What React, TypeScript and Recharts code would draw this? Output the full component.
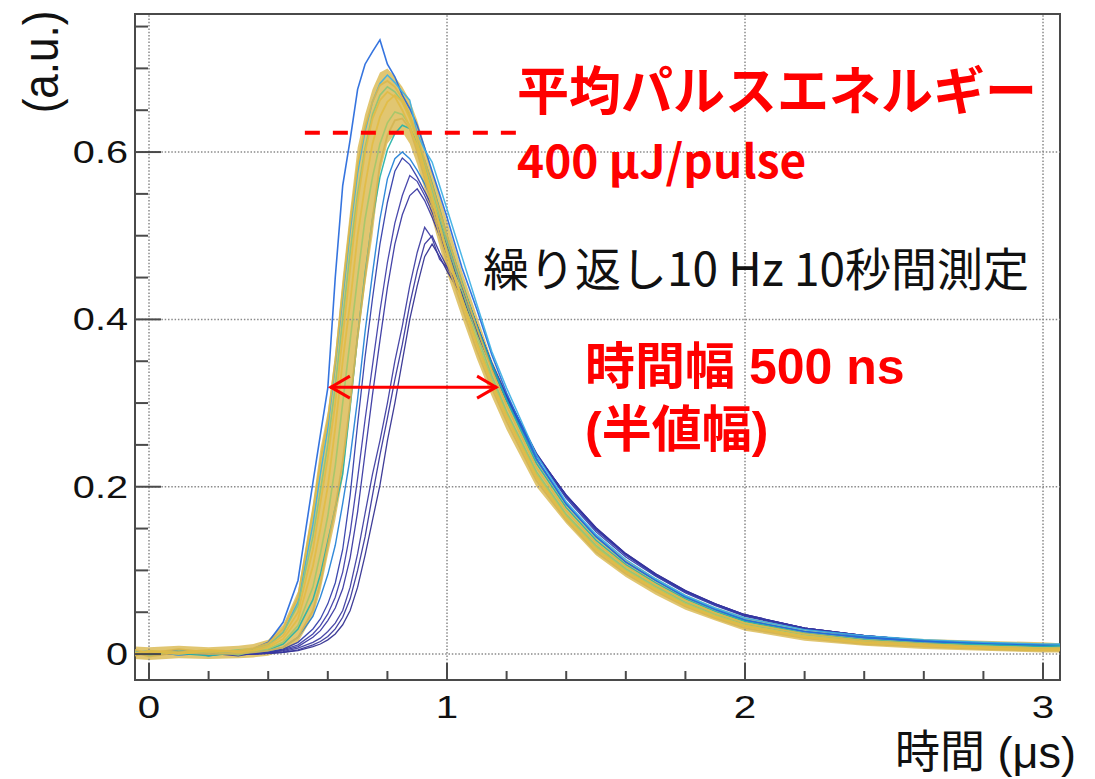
import React from 'react';
import { ComposedChart, Line, Area, XAxis, YAxis, ReferenceLine, ReferenceArea } from 'recharts';

// time axis (µs)
const T = [-0.047, 0, 0.1, 0.2, 0.3, 0.35, 0.4,
  0.45, 0.5, 0.55, 0.575, 0.6, 0.625, 0.65, 0.675, 0.7, 0.725, 0.75, 0.775,
  0.8, 0.825, 0.85, 0.875, 0.9, 0.925, 0.95, 0.975, 1.0, 1.05, 1.1, 1.15,
  1.2, 1.3, 1.4, 1.5, 1.6, 1.7, 1.8, 1.9, 2.0, 2.2, 2.4, 2.6, 2.8, 3.0, 3.057];

// envelope of the dense (ochre) bundle of pulses
const bandLow = [-0.006, -0.007, -0.005, -0.006, -0.005, -0.004, -0.002,
  0.004, 0.014, 0.045, 0.075, 0.118, 0.16, 0.21, 0.29, 0.37, 0.44, 0.5, 0.575,
  0.61, 0.622, 0.624, 0.61, 0.585, 0.555, 0.52, 0.487, 0.455, 0.403, 0.353, 0.308,
  0.268, 0.2, 0.156, 0.118, 0.092, 0.071, 0.053, 0.04, 0.028, 0.016, 0.01, 0.006, 0.004, 0.002, 0.002];
const bandHigh = [0.009, 0.008, 0.01, 0.008, 0.01, 0.012, 0.017,
  0.035, 0.075, 0.18, 0.245, 0.29, 0.36, 0.45, 0.53, 0.605, 0.645, 0.675, 0.695,
  0.7, 0.69, 0.678, 0.662, 0.638, 0.608, 0.578, 0.548, 0.518, 0.458, 0.405, 0.352,
  0.312, 0.234, 0.18, 0.142, 0.113, 0.091, 0.071, 0.056, 0.044, 0.03, 0.022, 0.018, 0.016, 0.014, 0.013];

// individual pulses
const blue1 = [0.004, 0.0, 0.005, -0.002, 0.003, 0.006, 0.014,
  0.038, 0.088, 0.205, 0.262, 0.318, 0.45, 0.56, 0.615, 0.675, 0.705, 0.72, 0.734,
  0.705, 0.69, 0.668, 0.652, 0.632, 0.605, 0.577, 0.55, 0.522, 0.462, 0.412, 0.358,
  0.312, 0.234, 0.18, 0.141, 0.11, 0.088, 0.068, 0.053, 0.04, 0.027, 0.02, 0.015, 0.013, 0.01, 0.011];
const cyan1 = [0.002, 0.004, -0.001, 0.003, 0.001, 0.004, 0.01,
  0.026, 0.062, 0.155, 0.215, 0.27, 0.345, 0.425, 0.505, 0.575, 0.625, 0.66, 0.682,
  0.692, 0.683, 0.672, 0.662, 0.622, 0.603, 0.588, 0.56, 0.532, 0.475, 0.418, 0.362,
  0.318, 0.238, 0.182, 0.143, 0.113, 0.09, 0.07, 0.055, 0.043, 0.029, 0.022, 0.017, 0.014, 0.012, 0.012];
const teal1 = [0.0, 0.003, 0.001, -0.002, 0.002, 0.003, 0.005,
  0.012, 0.03, 0.065, 0.095, 0.135, 0.175, 0.215, 0.295, 0.38, 0.455, 0.52, 0.57,
  0.603, 0.622, 0.632, 0.628, 0.612, 0.59, 0.562, 0.532, 0.5, 0.445, 0.392, 0.345,
  0.303, 0.228, 0.175, 0.136, 0.107, 0.085, 0.066, 0.051, 0.039, 0.025, 0.017, 0.013, 0.011, 0.009, 0.01];
const blue2 = [0.003, -0.001, 0.002, 0.004, 0.0, 0.002, 0.004,
  0.008, 0.02, 0.045, 0.068, 0.095, 0.13, 0.18, 0.235, 0.305, 0.385, 0.455, 0.52,
  0.568, 0.592, 0.6, 0.592, 0.578, 0.562, 0.542, 0.518, 0.493, 0.442, 0.393, 0.348,
  0.305, 0.232, 0.179, 0.14, 0.11, 0.088, 0.069, 0.054, 0.041, 0.027, 0.019, 0.015, 0.012, 0.01, 0.009];
const navy1 = [0.002, 0.0, 0.003, 0.001, -0.002, 0.001, 0.003,
  0.006, 0.014, 0.03, 0.042, 0.06, 0.085, 0.125, 0.19, 0.275, 0.355, 0.425, 0.49,
  0.54, 0.577, 0.593, 0.585, 0.57, 0.553, 0.535, 0.512, 0.488, 0.442, 0.394, 0.348,
  0.308, 0.238, 0.186, 0.146, 0.116, 0.093, 0.073, 0.058, 0.045, 0.03, 0.021, 0.016, 0.013, 0.01, 0.01];
const navy2 = [-0.001, 0.002, 0.0, 0.003, 0.001, 0.0, 0.002,
  0.005, 0.011, 0.024, 0.034, 0.048, 0.068, 0.098, 0.145, 0.21, 0.28, 0.345, 0.41,
  0.468, 0.515, 0.548, 0.572, 0.565, 0.548, 0.528, 0.505, 0.482, 0.44, 0.393, 0.348,
  0.309, 0.24, 0.188, 0.148, 0.118, 0.094, 0.074, 0.059, 0.046, 0.031, 0.022, 0.016, 0.013, 0.011, 0.01];
const navy3 = [0.001, 0.0, 0.002, -0.001, 0.002, 0.001, 0.002,
  0.004, 0.009, 0.02, 0.028, 0.04, 0.055, 0.078, 0.115, 0.17, 0.24, 0.31, 0.375,
  0.438, 0.49, 0.525, 0.548, 0.556, 0.542, 0.522, 0.5, 0.478, 0.438, 0.392, 0.347,
  0.308, 0.24, 0.189, 0.149, 0.119, 0.095, 0.075, 0.06, 0.047, 0.031, 0.022, 0.016, 0.013, 0.011, 0.01];
const navy4 = [0.0, 0.002, -0.001, 0.001, 0.0, 0.001, 0.001,
  0.003, 0.007, 0.014, 0.019, 0.027, 0.037, 0.052, 0.08, 0.12, 0.168, 0.215, 0.255,
  0.3, 0.35, 0.392, 0.44, 0.48, 0.51, 0.497, 0.472, 0.462, 0.43, 0.386, 0.343,
  0.303, 0.237, 0.19, 0.15, 0.119, 0.095, 0.075, 0.059, 0.046, 0.031, 0.022, 0.016, 0.013, 0.011, 0.01];
const navy5 = [0.001, 0.0, 0.001, 0.002, -0.001, 0.0, 0.001,
  0.002, 0.005, 0.011, 0.015, 0.021, 0.03, 0.044, 0.066, 0.1, 0.14, 0.19, 0.238,
  0.282, 0.328, 0.37, 0.418, 0.458, 0.49, 0.5, 0.48, 0.463, 0.432, 0.388, 0.345,
  0.305, 0.238, 0.19, 0.151, 0.12, 0.096, 0.076, 0.06, 0.047, 0.031, 0.022, 0.016, 0.013, 0.011, 0.01];
const navy6 = [0.0, 0.001, 0.0, 0.001, 0.0, 0.0, 0.001,
  0.002, 0.004, 0.009, 0.012, 0.017, 0.024, 0.035, 0.052, 0.08, 0.118, 0.16, 0.202,
  0.255, 0.3, 0.35, 0.4, 0.44, 0.475, 0.49, 0.475, 0.458, 0.428, 0.385, 0.343,
  0.304, 0.238, 0.19, 0.151, 0.12, 0.096, 0.076, 0.06, 0.047, 0.031, 0.022, 0.016, 0.013, 0.011, 0.01];
const green1 = [0.003, -0.002, 0.004, 0.001, 0.005, 0.006, 0.011,
  0.026, 0.058, 0.14, 0.195, 0.25, 0.32, 0.4, 0.48, 0.55, 0.605, 0.645, 0.668,
  0.678, 0.672, 0.66, 0.642, 0.615, 0.585, 0.555, 0.523, 0.492, 0.435, 0.382, 0.333,
  0.29, 0.218, 0.167, 0.13, 0.102, 0.081, 0.062, 0.048, 0.036, 0.023, 0.016, 0.012, 0.009, 0.007, 0.008];
const green2 = [0.0, 0.004, 0.001, 0.003, -0.001, 0.003, 0.006,
  0.014, 0.034, 0.08, 0.12, 0.165, 0.225, 0.3, 0.375, 0.45, 0.52, 0.57, 0.61,
  0.635, 0.648, 0.645, 0.632, 0.605, 0.578, 0.547, 0.515, 0.483, 0.426, 0.375, 0.328,
  0.287, 0.215, 0.165, 0.128, 0.1, 0.079, 0.06, 0.046, 0.034, 0.021, 0.014, 0.01, 0.007, 0.005, 0.006];
const ochre1 = [0.005, 0.001, 0.006, 0.002, 0.004, 0.007, 0.013,
  0.03, 0.068, 0.17, 0.23, 0.28, 0.35, 0.435, 0.515, 0.585, 0.63, 0.66, 0.68,
  0.685, 0.678, 0.664, 0.645, 0.62, 0.59, 0.56, 0.53, 0.5, 0.443, 0.39, 0.34,
  0.297, 0.223, 0.171, 0.133, 0.105, 0.083, 0.064, 0.049, 0.037, 0.024, 0.016, 0.012, 0.009, 0.007, 0.007];
const ochre2 = [-0.002, 0.003, 0.0, 0.004, 0.002, 0.004, 0.008,
  0.018, 0.042, 0.105, 0.15, 0.2, 0.27, 0.35, 0.42, 0.5, 0.56, 0.61, 0.642,
  0.66, 0.668, 0.66, 0.64, 0.612, 0.58, 0.545, 0.512, 0.48, 0.425, 0.372, 0.325,
  0.285, 0.213, 0.163, 0.126, 0.099, 0.078, 0.059, 0.045, 0.034, 0.021, 0.014, 0.01, 0.007, 0.005, 0.005];
const ochre3 = [0.002, -0.003, 0.002, 0.0, 0.001, 0.002, 0.004,
  0.008, 0.02, 0.052, 0.085, 0.13, 0.175, 0.23, 0.3, 0.38, 0.45, 0.52, 0.585,
  0.62, 0.638, 0.64, 0.628, 0.6, 0.568, 0.535, 0.5, 0.468, 0.415, 0.363, 0.318,
  0.278, 0.207, 0.16, 0.122, 0.096, 0.075, 0.057, 0.043, 0.031, 0.019, 0.012, 0.009, 0.006, 0.004, 0.004];
const ochre4 = [0.001, 0.004, 0.002, 0.005, 0.003, 0.005, 0.01,
  0.022, 0.05, 0.125, 0.18, 0.235, 0.3, 0.38, 0.46, 0.54, 0.6, 0.64, 0.662,
  0.672, 0.666, 0.65, 0.63, 0.605, 0.575, 0.542, 0.51, 0.478, 0.422, 0.37, 0.322,
  0.283, 0.211, 0.162, 0.125, 0.098, 0.077, 0.058, 0.044, 0.033, 0.02, 0.013, 0.01, 0.007, 0.005, 0.006];

// ticks
const xTicks = [0, 0.2, 0.4, 0.6, 0.8, 1, 1.2, 1.4, 1.6, 1.8, 2, 2.2, 2.4, 2.6, 2.8, 3];
const xMajor = [0, 1, 2, 3];
const yTicks = [0, 0.05, 0.1, 0.15, 0.2, 0.25, 0.3, 0.35, 0.4, 0.45, 0.5, 0.55, 0.6, 0.65, 0.7, 0.75];
const yMajor = [0, 0.2, 0.4, 0.6];
const yLabels = ['0', '0.2', '0.4', '0.6'];
const xLabels = ['0', '1', '2', '3'];

const X_DOMAIN: [number, number] = [-0.047, 3.057];
const Y_DOMAIN: [number, number] = [-0.031, 0.765];

// annotation values (data coordinates)
const energyLevel = 0.623;
const energySpan = [0.523, 1.235];
const halfMax = 0.319;
const fwhmSpan = [0.607, 1.168];

const series = [
  { key: 'navy6', values: navy6, color: '#2f2d8f', width: 1.3 },
  { key: 'navy5', values: navy5, color: '#35339a', width: 1.3 },
  { key: 'navy4', values: navy4, color: '#3a389f', width: 1.3 },
  { key: 'navy3', values: navy3, color: '#3433a0', width: 1.3 },
  { key: 'navy2', values: navy2, color: '#3b3aa6', width: 1.3 },
  { key: 'navy1', values: navy1, color: '#2e3aa8', width: 1.3 },
  { key: 'blue2', values: blue2, color: '#1f7fd6', width: 1.4 },
  { key: 'blue1', values: blue1, color: '#2468dc', width: 1.6 },
  { key: 'cyan1', values: cyan1, color: '#3cb0e4', width: 1.5 },
  { key: 'teal1', values: teal1, color: '#26b2a8', width: 1.5 },
  { key: 'green1', values: green1, color: '#8cc47a', width: 1.6 },
  { key: 'green2', values: green2, color: '#a3c76a', width: 1.6 },
  { key: 'ochre1', values: ochre1, color: '#dab74c', width: 1.8 },
  { key: 'ochre3', values: ochre3, color: '#d4b452', width: 1.8 },
  { key: 'ochre2', values: ochre2, color: '#e2bc44', width: 1.8 },
  { key: 'ochre4', values: ochre4, color: '#dfbb48', width: 1.8 },
];

const rows = T.map((t, i) => {
  const r: Record<string, any> = { t, band: [bandLow[i], bandHigh[i]] };
  series.forEach((s) => { r[s.key] = s.values[i]; });
  return r;
});

const LABEL_FONT = '"Liberation Sans", Arial, Helvetica, sans-serif';
const JP_FONT = '"Noto Sans CJK JP", "Noto Sans", sans-serif';
const MIX_FONT = '"Liberation Sans", "Noto Sans CJK JP", sans-serif';
const AXIS_COLOR = '#4a4a4a';

const isMajor = (v: number, list: number[]) => list.some((m) => Math.abs(m - v) < 1e-6);

const XTick = (props: any) => {
  const { x, y, payload } = props;
  const v = payload.value;
  const major = isMajor(v, xMajor);
  const axisY = y - 16;
  const idx = xMajor.findIndex((m) => Math.abs(m - v) < 1e-6);
  return (
    <g>
      <line x1={x} x2={x} y1={axisY} y2={axisY - (major ? 17 : 9)} stroke={AXIS_COLOR} strokeWidth={2} />
      {major && (
        <text transform={`translate(${x},${axisY + 38}) scale(1.3,1)`} textAnchor="middle"
          fontFamily={LABEL_FONT} fontSize={31} fill="#111">{xLabels[idx]}</text>
      )}
    </g>
  );
};

const YTick = (props: any) => {
  const { x, y, payload } = props;
  const v = payload.value;
  const major = isMajor(v, yMajor);
  const axisX = x + 8;
  const idx = yMajor.findIndex((m) => Math.abs(m - v) < 1e-6);
  return (
    <g>
      <line x1={axisX} x2={axisX + (major ? 26 : 13)} y1={y} y2={y} stroke={AXIS_COLOR} strokeWidth={2} />
      {major && (
        <text transform={`translate(${x + 1},${y + 11}) scale(1.28,1)`} textAnchor="end"
          fontFamily={LABEL_FONT} fontSize={31} fill="#111">{yLabels[idx]}</text>
      )}
    </g>
  );
};

const ArrowShape = (p: any) => {
  const { x1, y1, x2, y2 } = p;
  const c = '#ff0000';
  return (
    <g>
      <line x1={x1} y1={y1} x2={x2} y2={y2} stroke={c} strokeWidth={3} />
      <polyline points={`${x1 + 20},${y1 - 11} ${x1 + 1},${y1} ${x1 + 20},${y1 + 11}`} fill="none" stroke={c} strokeWidth={3} />
      <polyline points={`${x2 - 20},${y2 - 11} ${x2 - 1},${y2} ${x2 - 20},${y2 + 11}`} fill="none" stroke={c} strokeWidth={3} />
    </g>
  );
};

export default function App() {
  return (
    <div style={{ position: 'absolute', left: 0, top: 0, width: 1095, height: 779, background: '#fff' }}>
      <ComposedChart width={1095} height={779} data={rows} margin={{ top: 14, right: 35, bottom: 0, left: 0 }}>
        <XAxis type="number" dataKey="t" domain={X_DOMAIN} allowDataOverflow ticks={xTicks} interval={0}
          tick={(p: any) => <XTick {...p} />} tickLine={false} axisLine={false} height={99} tickSize={0} tickMargin={16} />
        <YAxis type="number" domain={Y_DOMAIN} allowDataOverflow ticks={yTicks} interval={0}
          tick={(p: any) => <YTick {...p} />} tickLine={false} axisLine={false} width={135} tickSize={0} tickMargin={8} />
        {xMajor.map((v) => (
          <ReferenceLine key={'gx' + v} x={v} stroke="#8a8a8a" strokeWidth={1.5} strokeDasharray="1.5 1.8" />
        ))}
        {yMajor.map((v) => (
          <ReferenceLine key={'gy' + v} y={v} stroke="#8a8a8a" strokeWidth={1.5} strokeDasharray="1.5 1.8" />
        ))}
        <Area type="linear" dataKey="band" stroke="none" fill="#d9b84e" fillOpacity={0.8} isAnimationActive={false} activeDot={false} />
        {series.map((s) => (
          <Line key={s.key} type="linear" dataKey={s.key} stroke={s.color} strokeWidth={s.width}
            strokeOpacity={0.92} dot={false} activeDot={false} isAnimationActive={false} />
        ))}
        <ReferenceLine segment={[{ x: energySpan[0], y: energyLevel }, { x: energySpan[1], y: energyLevel }]}
          stroke="#ff0000" strokeWidth={4} strokeDasharray="15 13" />
        <ReferenceLine segment={[{ x: fwhmSpan[0], y: halfMax }, { x: fwhmSpan[1], y: halfMax }]}
          shape={ArrowShape} />
        <ReferenceArea x1={X_DOMAIN[0]} x2={X_DOMAIN[1]} y1={Y_DOMAIN[0]} y2={Y_DOMAIN[1]}
          fill="none" fillOpacity={0} stroke={AXIS_COLOR} strokeWidth={2} />
      </ComposedChart>
      <svg width={1095} height={779} style={{ position: 'absolute', left: 0, top: 0, pointerEvents: 'none' }}>
        <text transform="translate(58,62) scale(1.15,1) rotate(-90)" textAnchor="middle"
          fontFamily={LABEL_FONT} fontSize={44} fill="#111">(a.u.)</text>
        <text x={517} y={110} fontFamily={JP_FONT} fontWeight={700} fontSize={52} fill="#ff0000">平均パルスエネルギー</text>
        <text x={517} y={178} fontFamily={JP_FONT} fontWeight={700} fontSize={46} fill="#ff0000">400 μJ/pulse</text>
        <text x={483} y={286} fontFamily={JP_FONT} fontWeight={400} fontSize={46} fill="#111">繰り返し10 Hz 10秒間測定</text>
        <text x={585} y={384} fontFamily={MIX_FONT} fontWeight={700} fontSize={50} fill="#ff0000">
          <tspan fontFamily={JP_FONT}>時間幅</tspan> 500 ns
        </text>
        <text x={585} y={447} fontFamily={MIX_FONT} fontWeight={700} fontSize={50} fill="#ff0000">(半値幅)</text>
        <text x={895} y={768} fontFamily={MIX_FONT} fontWeight={400} fontSize={45} fill="#111">時間 (μs)</text>
      </svg>
    </div>
  );
}
